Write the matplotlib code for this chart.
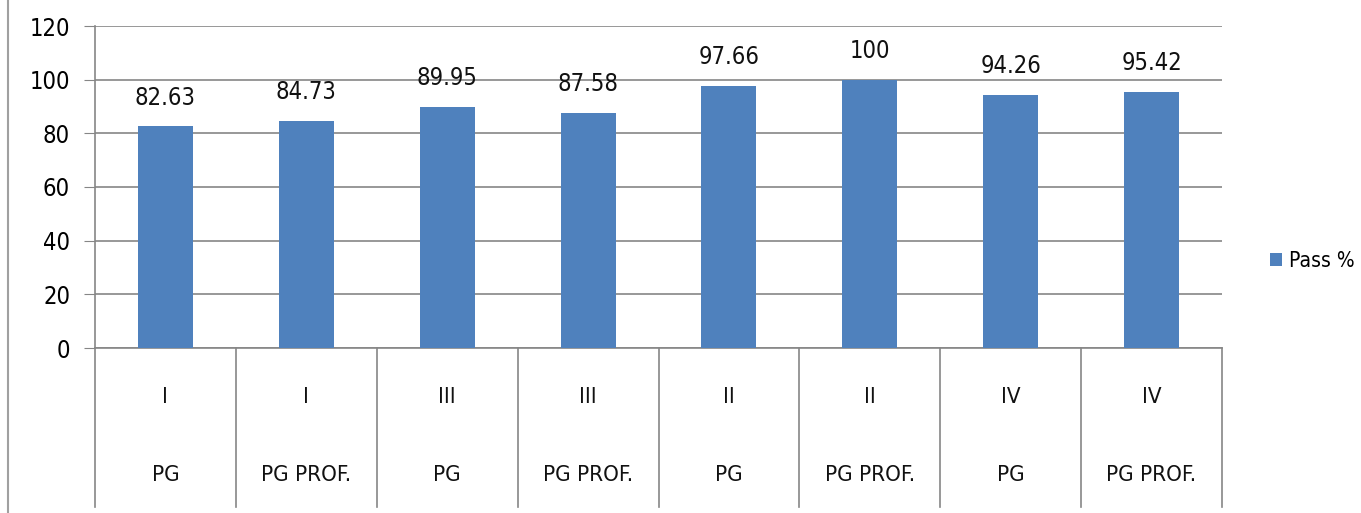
import matplotlib.pyplot as plt
from matplotlib.lines import Line2D

# --- DATA ---
semesters = ["I", "I", "III", "III", "II", "II", "IV", "IV"]
programmes = ["PG", "PG PROF.", "PG", "PG PROF.", "PG", "PG PROF.", "PG", "PG PROF."]
pass_pct = [82.63, 84.73, 89.95, 87.58, 97.66, 100, 94.26, 95.42]
value_labels = ["82.63", "84.73", "89.95", "87.58", "97.66", "100", "94.26", "95.42"]
y_ticks = [0, 20, 40, 60, 80, 100, 120]

BAR_COLOR = "#4F81BD"
GRID_COLOR = "#868686"

plt.rcParams['font.family'] = ["DejaVu Sans"]
plt.rcParams['font.stretch'] = "condensed"

W, H = 1361, 513
fig = plt.figure(figsize=(W / 100, H / 100), dpi=100)
x0, x1, y0, y1 = 95, 1222, 348, 26
ax = fig.add_axes([x0 / W, 1 - y0 / H, (x1 - x0) / W, (y0 - y1) / H])

xs = list(range(len(pass_pct)))
bars = ax.bar(xs, pass_pct, width=0.39, color=BAR_COLOR, label="Pass %", zorder=3)

for b, lab in zip(bars, value_labels):
    ax.annotate(lab, (b.get_x() + b.get_width() / 2, b.get_height()),
                xytext=(0, 12), textcoords="offset points",
                ha="center", va="bottom", fontsize=17, color="#111111")

ax.set_xlim(-0.5, len(pass_pct) - 0.5)
ax.set_ylim(0, 120)
ax.set_yticks(y_ticks)
ax.tick_params(axis='y', length=8, color=GRID_COLOR, labelsize=17, pad=10)
ax.set_xticks([])
ax.grid(axis='y', color=GRID_COLOR, linewidth=1.2, zorder=0)

for s in ['top', 'right']:
    ax.spines[s].set_visible(False)
ax.spines['left'].set_color(GRID_COLOR)
ax.spines['bottom'].set_color(GRID_COLOR)
ax.spines['left'].set_linewidth(1.2)
ax.spines['bottom'].set_linewidth(1.2)

# category divider lines below the axis
depth = (507 - y0) / (y0 - y1)
for i in range(len(pass_pct) + 1):
    ax.plot([i - 0.5, i - 0.5], [0, -depth], transform=ax.get_xaxis_transform(),
            color=GRID_COLOR, linewidth=1.2, clip_on=False)

# two-level category labels
t1 = -(397 - y0) / (y0 - y1)
t2 = -(475 - y0) / (y0 - y1)
for i, (sem, prog) in enumerate(zip(semesters, programmes)):
    ax.text(i, t1, sem, transform=ax.get_xaxis_transform(), ha="center", va="center",
            fontsize=16, color="#111111")
    ax.text(i, t2, prog, transform=ax.get_xaxis_transform(), ha="center", va="center",
            fontsize=16, color="#111111")

leg = ax.legend(loc="center left", bbox_to_anchor=(1.035, 0.27), frameon=False,
                fontsize=15, handlelength=0.6, handleheight=0.6, handletextpad=0.3,
                borderaxespad=0)

# outer frame left edge
fig.add_artist(Line2D([8 / W, 8 / W], [0, 1], color="#A0A0A0", linewidth=1.5))

fig.savefig("out.png", dpi=100, facecolor="white")
